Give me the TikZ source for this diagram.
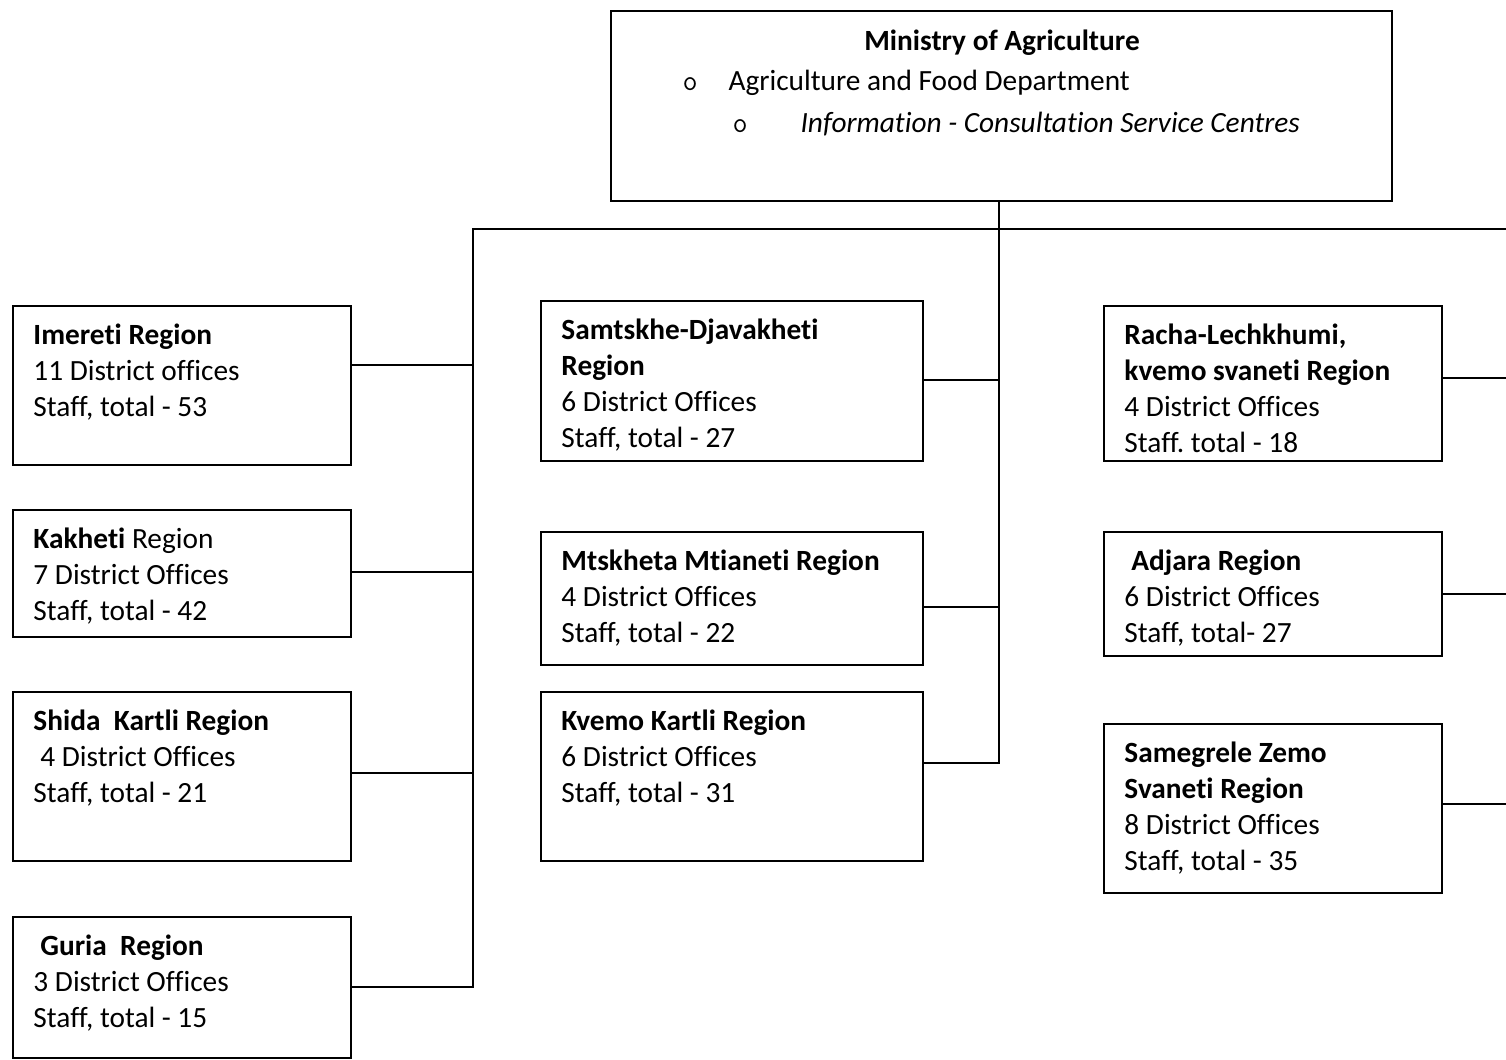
\documentclass[tikz,border=0pt]{standalone}
\usepackage{fontspec}
\setmainfont{Carlito}[Ligatures={NoCommon}]
\usepackage{tikz}
\frenchspacing
\tikzstyle{region} = [draw, line width=0.8pt, inner sep=0pt]
\tikzstyle{regtext} = [anchor=north west, align=left, inner sep=0pt, font=\fontsize{11}{13.5}\selectfont]
\tikzstyle{link} = [draw, line width=0.8pt]

\begin{document}
\begin{tikzpicture}[x=0.375pt,y=-0.375pt]
   \useasboundingbox (0,0) rectangle (1506,1060);
   % boxes: name/left/top/right/bottom
   \foreach \name/\xa/\ya/\xb/\yb in {ministry/611/11/1392/201, imereti/13/306/351/465, kakheti/13/510/351/637, shida/13/692/351/861, guria/13/917/351/1058, samtskhe/541/301/923/461, mtskheta/541/532/923/665, kvemo/541/692/923/861, racha/1104/306/1442/461, adjara/1104/532/1442/656, samegrele/1104/724/1442/893}
        \node[region, minimum width=(\xb-\xa)*0.375pt, minimum height=(\yb-\ya)*0.375pt] (\name) at ({(\xa+\xb)/2},{(\ya+\yb)/2}) {};
   % ministry text
   \node[regtext, anchor=base] (title) at (1002,51) {\textbf{Ministry of Agriculture}};
   \node[regtext, anchor=base west] (bullet1) at (682,91) {\ttfamily o};
   \node[regtext, anchor=base west] (dept) at (728,91) {Agriculture and Food Department};
   \node[regtext, anchor=base west] (bullet2) at (732,133) {\ttfamily o};
   \node[regtext, anchor=base west] (centres) at (800,133) {\textit{Information - Consultation Service Centres}};
   % region texts
   \foreach \name/\body in {{imereti/\textbf{Imereti Region}\\11 District offices\\Staff, total - 53},
        {kakheti/\textbf{Kakheti} Region\\7 District Offices\\Staff, total - 42},
        {shida/\textbf{Shida~ Kartli Region}\\\hspace*{2.6pt}4 District Offices\\Staff, total - 21},
        {guria/\textbf{\hspace*{2.6pt}Guria~ Region}\\3 District Offices\\Staff, total - 15},
        {samtskhe/\textbf{Samtskhe-Djavakheti}\\\textbf{Region}\\6 District Offices\\Staff, total - 27},
        {mtskheta/\textbf{Mtskheta Mtianeti Region}\\4 District Offices\\Staff, total - 22},
        {kvemo/\textbf{Kvemo Kartli Region}\\6 District Offices\\Staff, total - 31},
        {racha/\textbf{Racha-Lechkhumi,}\\\textbf{kvemo svaneti Region}\\4 District Offices\\Staff. total - 18},
        {adjara/\textbf{\hspace*{2.6pt}Adjara Region}\\6 District Offices\\Staff, total- 27},
        {samegrele/\textbf{Samegrele Zemo}\\\textbf{Svaneti Region}\\8 District Offices\\Staff, total - 35}}
        \node[regtext] (\name-txt) at ([shift={(21,14)}]\name.north west) {\strut\body};
   % connectors
   \coordinate (ltop) at (473,229);
   \coordinate (mtop) at (999,229);
   \coordinate (rtop) at (1506,229);
   \path[link] (guria.east |- 0,987) -- (ltop |- 0,987) -- (ltop) -- (rtop);
   \path[link] (kvemo.east |- 0,763) -- (mtop |- 0,763) -- (mtop |- ministry.south);
   \foreach \name/\y in {imereti/365, kakheti/572, shida/773}
        \path[link] (\name.east |- 0,\y) -- (ltop |- 0,\y);
   \foreach \name/\y in {samtskhe/380, mtskheta/607}
        \path[link] (\name.east |- 0,\y) -- (mtop |- 0,\y);
   \foreach \name/\y in {racha/378, adjara/594, samegrele/804}
        \path[link] (\name.east |- 0,\y) -- (rtop |- 0,\y);
\end{tikzpicture}
\end{document}
